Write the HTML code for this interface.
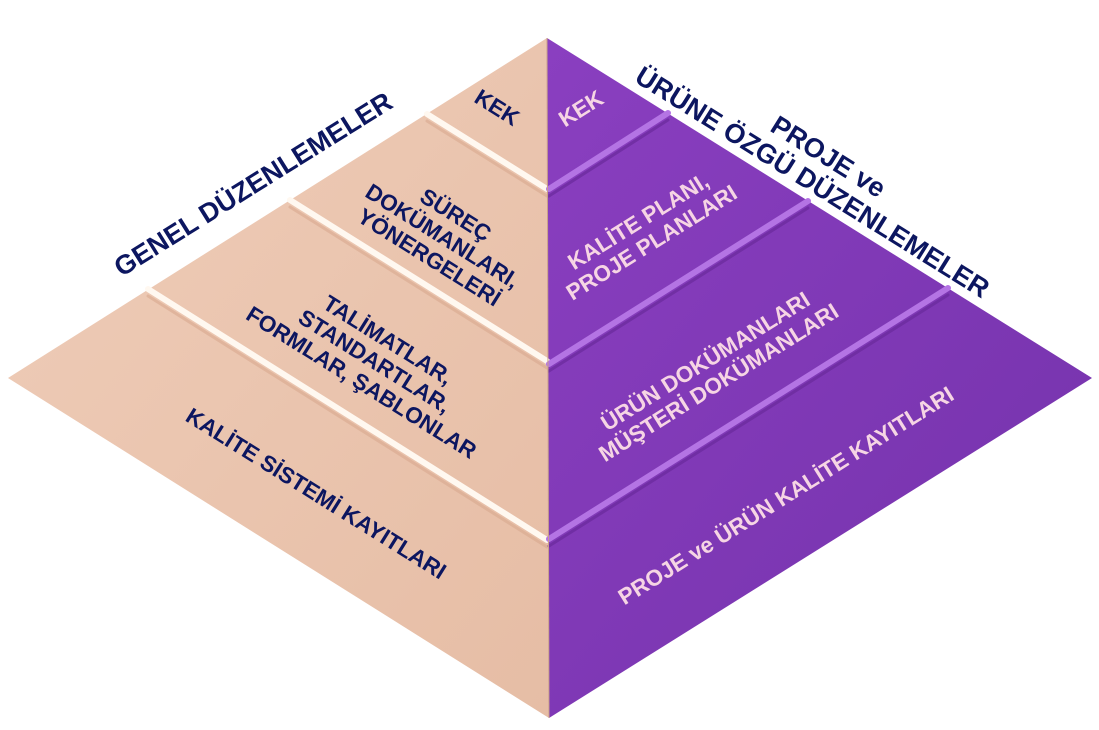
<!DOCTYPE html>
<html><head><meta charset="utf-8"><style>
html,body{margin:0;padding:0;background:#fff;width:1099px;height:730px;overflow:hidden}
text{font-family:"Liberation Sans",Arial,sans-serif;font-weight:bold}
</style></head><body>
<svg width="1099" height="730" viewBox="0 0 1099 730" xmlns="http://www.w3.org/2000/svg">
<defs>
<linearGradient id="pk" x1="0" y1="0" x2="1" y2="1"><stop offset="0" stop-color="#efcdb9"/><stop offset="1" stop-color="#e6bda5"/></linearGradient>
<linearGradient id="pu" x1="0" y1="0" x2="1" y2="1"><stop offset="0" stop-color="#8a3fc0"/><stop offset="1" stop-color="#7432ab"/></linearGradient>
</defs>
<polygon points="547,38 8,378 549,718" fill="url(#pk)"/>
<polygon points="547,38 1092,378 549,718" fill="url(#pu)"/>
<g stroke-linecap="round">
<line x1="427" y1="114" x2="547" y2="189" stroke="#fff8f0" stroke-width="6"/>
<line x1="427" y1="121" x2="547" y2="196" stroke="#d9a98f" stroke-width="3" opacity=".6"/>
<line x1="290" y1="200" x2="547" y2="361" stroke="#fff8f0" stroke-width="6"/>
<line x1="290" y1="207" x2="547" y2="368" stroke="#d9a98f" stroke-width="3" opacity=".6"/>
<line x1="148" y1="289" x2="547" y2="540" stroke="#fff8f0" stroke-width="6"/>
<line x1="148" y1="296" x2="547" y2="547" stroke="#d9a98f" stroke-width="3" opacity=".6"/>
<line x1="668" y1="113" x2="549" y2="189" stroke="#b474e4" stroke-width="6"/>
<line x1="668" y1="120" x2="549" y2="196" stroke="#6a2a9c" stroke-width="3" opacity=".7"/>
<line x1="808" y1="201" x2="549" y2="364" stroke="#b474e4" stroke-width="6"/>
<line x1="808" y1="208" x2="549" y2="371" stroke="#6a2a9c" stroke-width="3" opacity=".7"/>
<line x1="948" y1="288" x2="549" y2="539" stroke="#b474e4" stroke-width="6"/>
<line x1="948" y1="295" x2="549" y2="546" stroke="#6a2a9c" stroke-width="3" opacity=".7"/>
</g>
<line x1="547" y1="38" x2="549" y2="718" stroke="#c7a08a" stroke-width="1"/>
<g fill="#0c1660" font-size="22.5" text-anchor="middle">
<text transform="translate(493,114) rotate(32)">KEK</text>
<g transform="translate(440,240) rotate(32)"><text y="-22">SÜREÇ</text><text y="3">DOKÜMANLARI,</text><text y="28">YÖNERGELERİ</text></g>
<g transform="translate(368,372) rotate(32)"><text y="-30">TALİMATLAR,</text><text y="-5">STANDARTLAR,</text><text y="20">FORMLAR, ŞABLONLAR</text></g>
<text transform="translate(312,500) rotate(32)">KALİTE SİSTEMİ KAYITLARI</text>
</g>
<g fill="#f6d5e4" font-size="22.5" text-anchor="middle">
<text transform="translate(585,115) rotate(-32)">KEK</text>
<g transform="translate(645,232) rotate(-32)"><text y="-5">KALİTE PLANI,</text><text y="20">PROJE PLANLARI</text></g>
<g transform="translate(712,372) rotate(-32)"><text y="-5">ÜRÜN DOKÜMANLARI</text><text y="20">MÜŞTERİ DOKÜMANLARI</text></g>
<text transform="translate(790,502) rotate(-32)">PROJE ve ÜRÜN KALİTE KAYITLARI</text>
</g>
<g fill="#0c1660" font-size="27" text-anchor="middle">
<text transform="translate(258,192) rotate(-32)">GENEL DÜZENLEMELER</text>
<g transform="translate(815,178) rotate(32)"><text y="-16">PROJE ve</text><text y="14">ÜRÜNE ÖZGÜ DÜZENLEMELER</text></g>
</g>
</svg>
</body></html>
